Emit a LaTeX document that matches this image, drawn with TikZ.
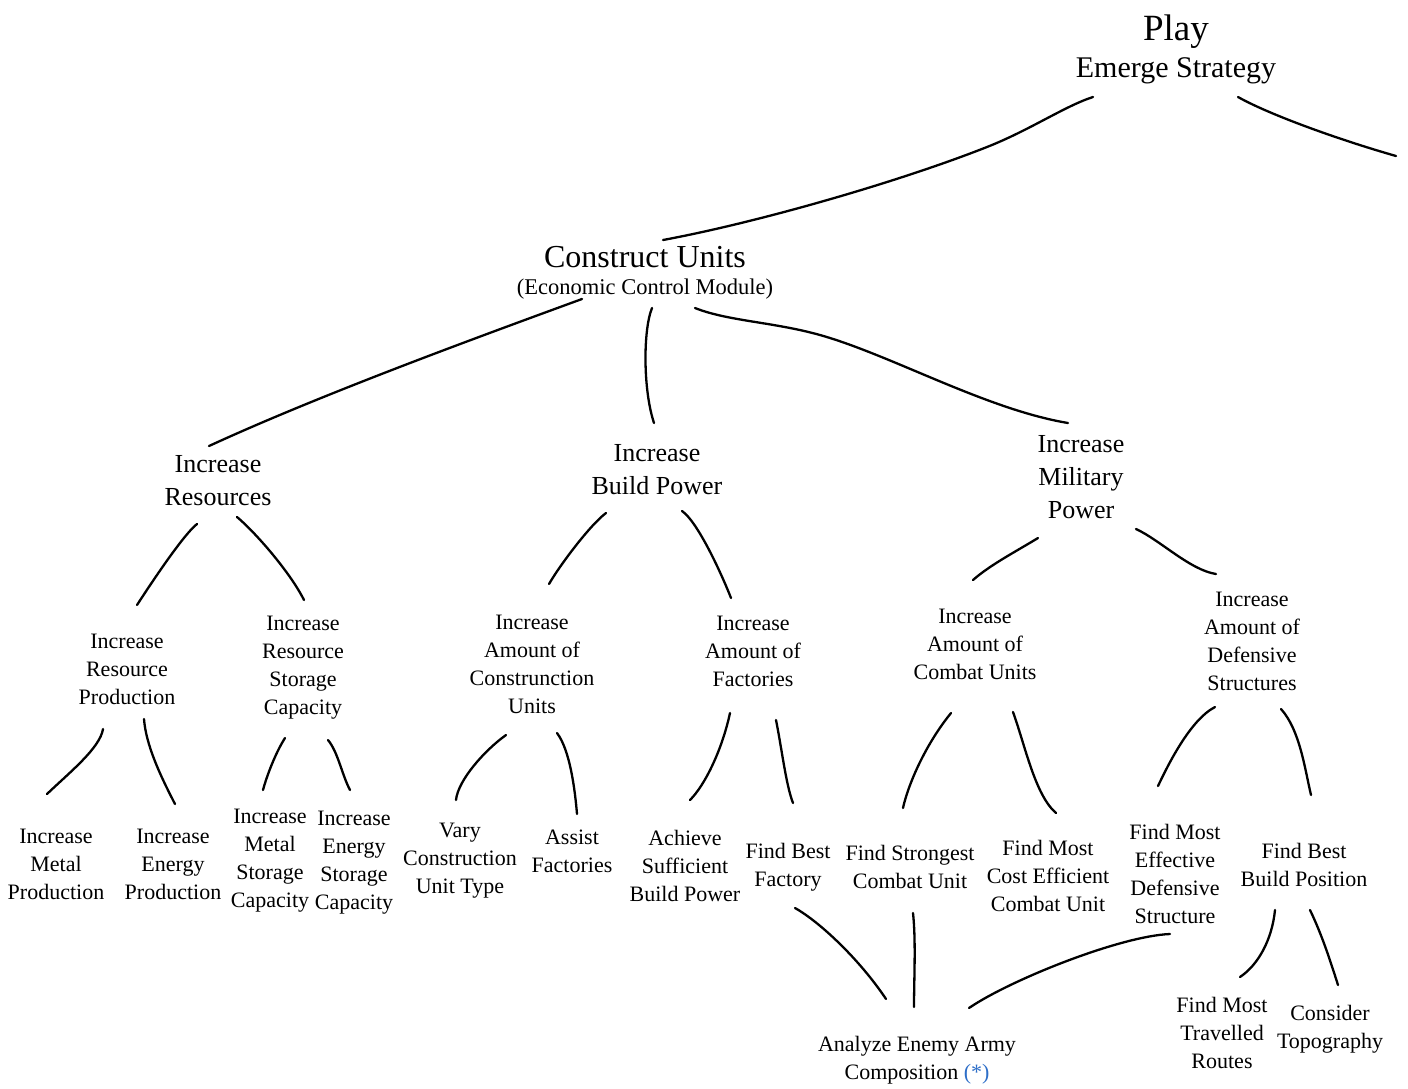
\documentclass[tikz,border=0pt]{standalone}
\usepackage{fontspec}
\setmainfont{Liberation Serif}
\begin{document}
\begin{tikzpicture}[x=1pt,y=-1pt,
  base/.style={align=center, inner sep=0pt, anchor=center},
  top/.style={base, font=\fontsize{37}{40}\selectfont},
  sub/.style={base, font=\fontsize{30}{34}\selectfont},
  mid/.style={base, font=\fontsize{32}{36}\selectfont},
  note/.style={base, font=\fontsize{22.5}{27}\selectfont},
  lvltwo/.style={base, font=\fontsize{26}{33}\selectfont},
  lvl/.style={base, font=\fontsize{22}{28}\selectfont},
  link/.style={line width=2.3pt, line cap=round},
]
\definecolor{starblue}{RGB}{45,110,200}
\useasboundingbox (0,0) rectangle (1408,1088);

% ---- titles and nodes ----
\node[top] (play) at (1176,32) {Play};
\node[sub] (emerge) at (1176,71) {Emerge Strategy};
\node[mid] (cu) at (645,257) {Construct Units};
\node[note] (ecm) at (645,289) {(Economic Control Module)};

\node[lvltwo] (res) at (218,481) {Increase\\Resources};
\node[lvltwo] (bp) at (657,470) {Increase\\Build Power};
\node[lvltwo] (mil) at (1081,477) {Increase\\Military\\Power};

\node[lvl] (rp) at (127,669) {Increase\\Resource\\Production};
\node[lvl] (rsc) at (303,668) {Increase\\Resource\\Storage\\Capacity};
\node[lvl] (acu) at (532,664) {Increase\\Amount of\\Construnction\\Units};
\node[lvl] (af) at (753,651) {Increase\\Amount of\\Factories};
\node[lvl] (acb) at (975,644) {Increase\\Amount of\\Combat Units};
\node[lvl] (ads) at (1252,641) {Increase\\Amount of\\Defensive\\Structures};

\node[lvl] (imp) at (56,864) {Increase\\Metal\\Production};
\node[lvl] (iep) at (173,864) {Increase\\Energy\\Production};
\node[lvl] (imsc) at (270,861) {Increase\\Metal\\Storage\\Capacity};
\node[lvl] (iesc) at (354,863) {Increase\\Energy\\Storage\\Capacity};
\node[lvl] (vary) at (460,861) {Vary\\Construction\\Unit Type};
\node[lvl] (assist) at (572,851) {Assist\\Factories};
\node[lvl] (ach) at (685,866) {Achieve\\Sufficient\\Build Power};
\node[lvl] (fbf) at (788,867) {Find Best\\Factory};
\node[lvl] (fsc) at (910,867) {Find Strongest\\Combat Unit};
\node[lvl] (fmce) at (1048,876) {Find Most\\Cost Efficient\\Combat Unit};
\node[lvl] (fme) at (1175,874) {Find Most\\Effective\\Defensive\\Structure};
\node[lvl] (fbbp) at (1304,865) {Find Best\\Build Position};
\node[lvl] (fmtr) at (1222,1033) {Find Most\\Travelled\\Routes};
\node[lvl] (topo) at (1330,1029) {Consider\\Topography};
\node[lvl] (aeac) at (917,1060) {Analyze Enemy Army\\Composition \textcolor{starblue}{(*)}};

% ---- connector end points ----
\coordinate (play-r) at (1238,97);   \coordinate (offpage) at (1396,156);
\coordinate (play-l) at (1093,97);   \coordinate (play-l-mid) at (987,147);
\coordinate (cu-t) at (663,240);
\coordinate (cu-l) at (582,299);     \coordinate (res-t) at (209,446);
\coordinate (cu-m) at (652,308);     \coordinate (bp-t) at (654,423);
\coordinate (cu-r) at (695,308);     \coordinate (cu-r-mid) at (830,338);
\coordinate (mil-t) at (1068,423);

\coordinate (res-l) at (197,524);    \coordinate (rp-t) at (137,605);
\coordinate (res-r) at (237,517);    \coordinate (rsc-t) at (304,600);
\coordinate (bp-l) at (606,513);     \coordinate (acu-t) at (549,584);
\coordinate (bp-r) at (682,511);     \coordinate (af-t) at (731,598);
\coordinate (mil-l) at (1038,538);   \coordinate (acb-t) at (973,580);
\coordinate (mil-r) at (1136,529);   \coordinate (ads-t) at (1216,574);

\coordinate (rp-l) at (103,729);     \coordinate (imp-t) at (47,794);
\coordinate (rp-r) at (144,719);     \coordinate (iep-t) at (175,804);
\coordinate (rsc-l) at (285,738);    \coordinate (imsc-t) at (263,790);
\coordinate (rsc-r) at (328,740);    \coordinate (iesc-t) at (350,790);
\coordinate (acu-l) at (506,735);    \coordinate (vary-t) at (456,800);
\coordinate (acu-r) at (557,733);    \coordinate (assist-t) at (577,814);
\coordinate (af-l) at (730,713);     \coordinate (ach-t) at (690,800);
\coordinate (af-r) at (776,720);     \coordinate (fbf-t) at (793,803);
\coordinate (acb-l) at (951,713);    \coordinate (fsc-t) at (903,808);
\coordinate (acb-r) at (1013,712);   \coordinate (fmce-t) at (1056,813);
\coordinate (ads-l) at (1215,707);   \coordinate (fme-t) at (1158,786);
\coordinate (ads-r) at (1281,709);   \coordinate (fbbp-t) at (1311,795);

\coordinate (fbf-b) at (795,908);    \coordinate (aeac-l) at (886,999);
\coordinate (fsc-b) at (913,913);    \coordinate (aeac-m) at (914,1007);
\coordinate (fme-b) at (1170,934);   \coordinate (aeac-r) at (969,1008);
\coordinate (fbbp-l) at (1275,910);  \coordinate (fmtr-t) at (1240,977);
\coordinate (fbbp-r) at (1310,910);  \coordinate (topo-t) at (1338,985);

% ---- connectors ----
\draw[link] (play-r) .. controls (1270,115) and (1340,140) .. (offpage);
\draw[link] (play-l) .. controls (1065,106) and (1030,130) .. (play-l-mid)
                     .. controls (901,181) and (760,222) .. (cu-t);
\draw[link] (cu-l) .. controls (470,340) and (320,395) .. (res-t);
\draw[link] (cu-m) .. controls (643,330) and (643,390) .. (bp-t);
\draw[link] (cu-r) .. controls (730,322) and (780,322) .. (cu-r-mid)
                   .. controls (900,360) and (990,410) .. (mil-t);

\draw[link] (res-l) .. controls (183,535) and (150,585) .. (rp-t);
\draw[link] (res-r) .. controls (255,532) and (290,572) .. (rsc-t);
\draw[link] (bp-l) .. controls (590,525) and (560,565) .. (acu-t);
\draw[link] (bp-r) .. controls (698,522) and (722,575) .. (af-t);
\draw[link] (mil-l) .. controls (1015,552) and (990,565) .. (acb-t);
\draw[link] (mil-r) .. controls (1160,540) and (1190,570) .. (ads-t);

\draw[link] (rp-l) .. controls (100,748) and (70,772) .. (imp-t);
\draw[link] (rp-r) .. controls (146,745) and (160,775) .. (iep-t);
\draw[link] (rsc-l) .. controls (276,752) and (267,775) .. (imsc-t);
\draw[link] (rsc-r) .. controls (338,752) and (342,775) .. (iesc-t);
\draw[link] (acu-l) .. controls (485,750) and (458,780) .. (vary-t);
\draw[link] (acu-r) .. controls (570,750) and (575,790) .. (assist-t);
\draw[link] (af-l) .. controls (722,750) and (705,785) .. (ach-t);
\draw[link] (af-r) .. controls (782,750) and (786,785) .. (fbf-t);
\draw[link] (acb-l) .. controls (925,745) and (908,785) .. (fsc-t);
\draw[link] (acb-r) .. controls (1025,745) and (1035,795) .. (fmce-t);
\draw[link] (ads-l) .. controls (1190,720) and (1168,765) .. (fme-t);
\draw[link] (ads-r) .. controls (1300,730) and (1305,770) .. (fbbp-t);

\draw[link] (fbf-b) .. controls (820,922) and (860,960) .. (aeac-l);
\draw[link] (fsc-b) .. controls (916,940) and (914,980) .. (aeac-m);
\draw[link] (fme-b) .. controls (1120,936) and (1010,980) .. (aeac-r);
\draw[link] (fbbp-l) .. controls (1272,940) and (1258,965) .. (fmtr-t);
\draw[link] (fbbp-r) .. controls (1322,935) and (1330,960) .. (topo-t);
\end{tikzpicture}
\end{document}
